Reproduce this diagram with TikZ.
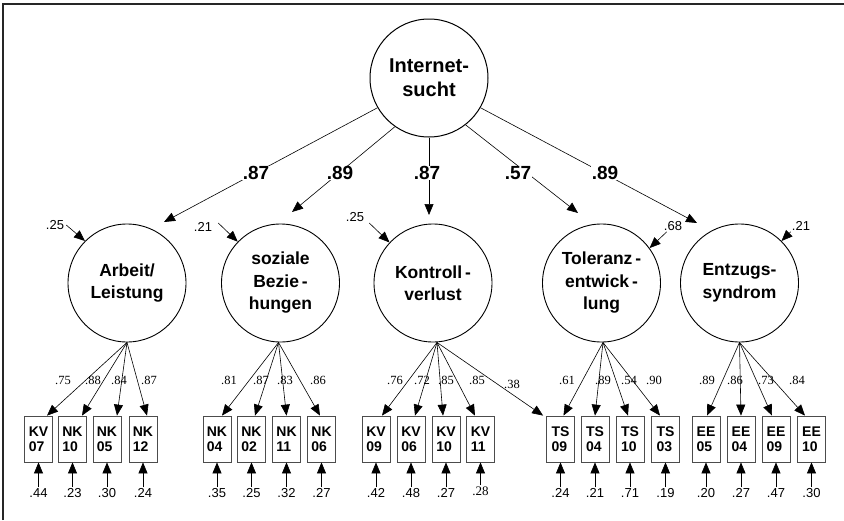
\documentclass[tikz,border=0pt]{standalone}
\usepackage{fontspec}
\setmainfont{Liberation Sans}
\newfontfamily\serifnum{Liberation Serif}
\usetikzlibrary{arrows.meta}
\begin{document}
\begin{tikzpicture}[x=1pt,y=-1pt,
  lat/.style={circle,draw,line width=0.9pt,minimum size=118pt,inner sep=0pt,
    font=\bfseries\fontsize{17.5}{22.5}\selectfont,align=center},
  ind/.style={rectangle,draw=black!70,line width=0.8pt,minimum width=28pt,
    minimum height=46pt,inner sep=0pt,font=\bfseries\fontsize{14}{15}\selectfont,align=left},
  arr/.style={-{Triangle[length=11pt,width=9pt]},line width=0.6pt},
  big/.style={font=\bfseries\fontsize{19}{19}\selectfont,fill=white,inner sep=0.5pt},
  ld/.style={font=\serifnum\fontsize{12.5}{12.5}\selectfont,inner sep=0.5pt},
  er/.style={font=\fontsize{13}{13}\selectfont,inner sep=1pt},
]
\useasboundingbox (0,0) rectangle (844,520);
\fill[white] (0,0) rectangle (844,520);
\draw[line width=1.6pt,black!85] (3,520) -- (3,4) -- (844,4);

% latent variables
\node[lat,line width=1pt,font=\bfseries\fontsize{20}{24}\selectfont] (top) at (429,78) {Internet-\\sucht};
\node[lat] (arbeit) at (127,283) {Arbeit/\\Leistung};
\node[lat] (sozial) at (280.5,283) {soziale\\Bezie\,-\\hungen};
\node[lat] (kontr) at (433,283) {Kontroll\,-\\verlust};
\node[lat] (toler) at (601.5,283) {Toleranz\,-\\entwick\,-\\lung};
\node[lat] (entzug) at (739.5,283) {Entzugs-\\syndrom};

% top-level paths
\coordinate (tA) at (164,222);
\coordinate (tB) at (292,212);
\coordinate (tC) at (429,215);
\coordinate (tD) at (578,213);
\coordinate (tE) at (697,223);
\draw[arr] (top.-150) -- (tA);
\draw[arr] (top.-125) -- (tB);
\draw[arr] (top.-90) -- (tC);
\draw[arr] (top.-52) -- (tD);
\draw[arr] (top.-30) -- (tE);
\node[big] (g1) at (256,173) {.87};
\node[big] (g2) at (340,173) {.89};
\node[big] (g3) at (427,173) {.87};
\node[big] (g4) at (518,173) {.57};
\node[big] (g5) at (605,173) {.89};

% residuals of latent variables
\node[er] (r1) at (55,225) {.25};
\node[er] (r2) at (203,227) {.21};
\node[er] (r3) at (355,217) {.25};
\node[er] (r4) at (673,226) {.68};
\node[er] (r5) at (801,226) {.21};
\draw[arr] ([xshift=1pt]r1.east) -- (arbeit.135);
\draw[arr] ([shift={(5pt,4pt)}]r2.east) -- (sozial.136);
\draw[arr] ([shift={(4pt,-6pt)}]r3.east) -- (kontr.137);
\draw[arr] ([xshift=4pt]r4.south west) -- (toler.36);
\draw[arr] (r5.south west) -- (entzug.45);

% indicators
\node[ind] (kv07) at (38.5,439) {KV\\07};
\node[ind] (nk10) at (72.5,439) {NK\\10};
\node[ind] (nk05) at (107,439) {NK\\05};
\node[ind] (nk12) at (143,439) {NK\\12};
\node[ind] (nk04) at (217,439) {NK\\04};
\node[ind] (nk02) at (251.5,439) {NK\\02};
\node[ind] (nk11) at (286.5,439) {NK\\11};
\node[ind] (nk06) at (321.5,439) {NK\\06};
\node[ind] (kv09) at (376,439) {KV\\09};
\node[ind] (kv06) at (411,439) {KV\\06};
\node[ind] (kv10) at (446,439) {KV\\10};
\node[ind] (kv11) at (480.5,439) {KV\\11};
\node[ind] (ts09) at (560.5,439) {TS\\09};
\node[ind] (ts04) at (595,439) {TS\\04};
\node[ind] (ts10) at (630,439) {TS\\10};
\node[ind] (ts03) at (665.5,439) {TS\\03};
\node[ind] (ee05) at (706,439) {EE\\05};
\node[ind] (ee04) at (741,439) {EE\\04};
\node[ind] (ee09) at (776,439) {EE\\09};
\node[ind] (ee10) at (811.5,439) {EE\\10};

% loadings
\draw[arr] (arbeit.south) -- ([xshift=8.5pt]kv07.north);
\draw[arr] (arbeit.south) -- ([xshift=9.5pt]nk10.north);
\draw[arr] (arbeit.south) -- ([xshift=10pt]nk05.north);
\draw[arr] (arbeit.south) -- ([xshift=4pt]nk12.north);
\draw[arr] ([xshift=-2pt]sozial.south) -- ([xshift=5pt]nk04.north);
\draw[arr] ([xshift=-2pt]sozial.south) -- ([xshift=3.5pt]nk02.north);
\draw[arr] ([xshift=-2pt]sozial.south) -- (nk11.north);
\draw[arr] ([xshift=-2pt]sozial.south) -- ([xshift=-1.5pt]nk06.north);
\draw[arr] ([xshift=4pt]kontr.south) -- ([xshift=6pt]kv09.north);
\draw[arr] ([xshift=4pt]kontr.south) -- ([xshift=4pt]kv06.north);
\draw[arr] ([xshift=4pt]kontr.south) -- ([xshift=-3pt]kv10.north);
\draw[arr] ([xshift=4pt]kontr.south) -- ([xshift=-5.5pt]kv11.north);
\draw[arr] ([xshift=4pt]kontr.south) -- ([xshift=-3pt]ts09.north west);
\draw[arr] ([xshift=1.5pt]toler.south) -- ([xshift=3pt]ts09.north);
\draw[arr] ([xshift=1.5pt]toler.south) -- (ts04.north);
\draw[arr] ([xshift=1.5pt]toler.south) -- ([xshift=-2pt]ts10.north);
\draw[arr] ([xshift=1.5pt]toler.south) -- ([xshift=-5.5pt]ts03.north);
\draw[arr] (entzug.south) -- ([xshift=1pt]ee05.north);
\draw[arr] (entzug.south) -- (ee04.north);
\draw[arr] (entzug.south) -- ([xshift=-4pt]ee09.north);
\draw[arr] (entzug.south) -- ([xshift=-6.5pt]ee10.north);

% loading values
\node[ld] (l1) at (63,380) {.75};
\node[ld] (l2) at (93,380) {.88};
\node[ld] (l3) at (119,380) {.84};
\node[ld] (l4) at (149,380) {.87};
\node[ld] (l5) at (229,380) {.81};
\node[ld] (l6) at (261,380) {.87};
\node[ld] (l7) at (285,380) {.83};
\node[ld] (l8) at (318,380) {.86};
\node[ld] (l9) at (395,380) {.76};
\node[ld] (l10) at (422,380) {.72};
\node[ld] (l11) at (446,380) {.85};
\node[ld] (l12) at (477,380) {.85};
\node[ld] (l13) at (512,384) {.38};
\node[ld] (l14) at (567,380) {.61};
\node[ld] (l15) at (603,380) {.89};
\node[ld] (l16) at (629,380) {.54};
\node[ld] (l17) at (654,380) {.90};
\node[ld] (l18) at (707,380) {.89};
\node[ld] (l19) at (735,380) {.86};
\node[ld] (l20) at (766,380) {.73};
\node[ld] (l21) at (797,380) {.84};

% error terms
\node[er] (e1) at (38.5,493) {.44};
\node[er] (e2) at (72.5,493) {.23};
\node[er] (e3) at (107,493) {.30};
\node[er] (e4) at (143,493) {.24};
\node[er] (e5) at (217,493) {.35};
\node[er] (e6) at (251.5,493) {.25};
\node[er] (e7) at (286.5,493) {.32};
\node[er] (e8) at (321.5,493) {.27};
\node[er] (e9) at (376,493) {.42};
\node[er] (e10) at (411,493) {.48};
\node[er] (e11) at (446,493) {.27};
\node[er,font=\serifnum\fontsize{13}{13}\selectfont] (e12) at (480.5,491) {.28};
\node[er] (e13) at (560.5,493) {.24};
\node[er] (e14) at (595,493) {.21};
\node[er] (e15) at (630,493) {.71};
\node[er] (e16) at (665.5,493) {.19};
\node[er] (e17) at (706,493) {.20};
\node[er] (e18) at (741,493) {.27};
\node[er] (e19) at (776,493) {.47};
\node[er] (e20) at (811.5,493) {.30};
\foreach \e/\b in {e1/kv07,e2/nk10,e3/nk05,e4/nk12,e5/nk04,e6/nk02,e7/nk11,e8/nk06,
  e9/kv09,e10/kv06,e11/kv10,e12/kv11,e13/ts09,e14/ts04,e15/ts10,e16/ts03,
  e17/ee05,e18/ee04,e19/ee09,e20/ee10}
  \draw[arr] (\e.north) -- (\b.south);
\end{tikzpicture}
\end{document}
